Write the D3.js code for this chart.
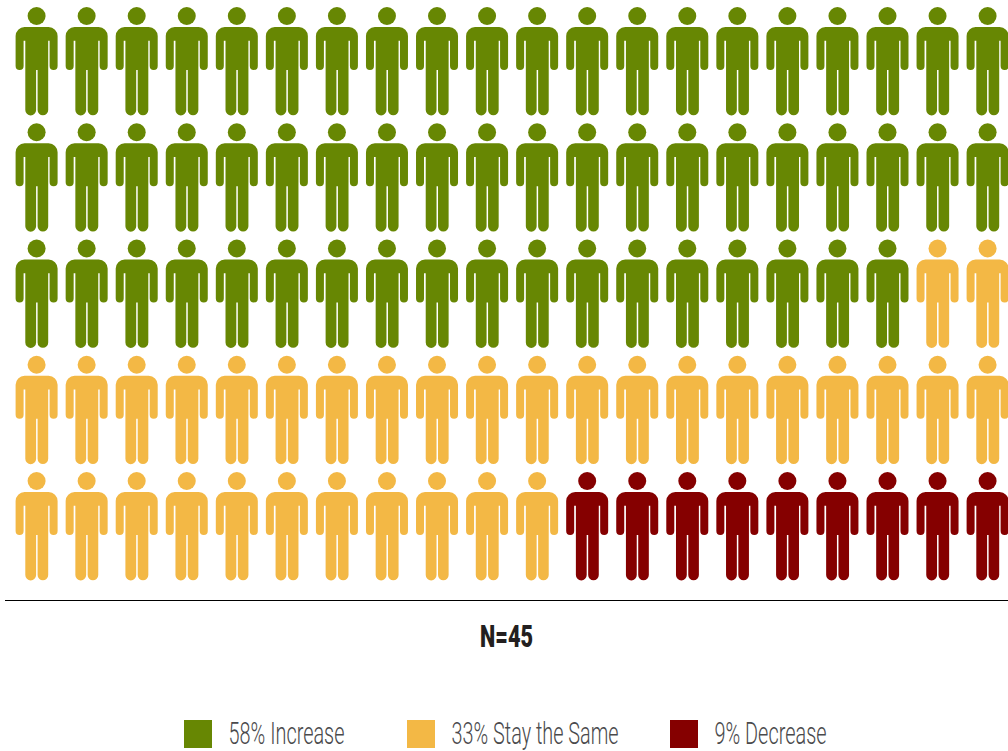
<!DOCTYPE html>
<html><head><meta charset="utf-8">
<style>html,body{margin:0;padding:0;background:#fff}svg{display:block}</style>
<script src="https://cdnjs.cloudflare.com/ajax/libs/d3/7.8.5/d3.min.js"></script>
</head><body><div id="c"></div>
<script>
const categories = ["Increase","Stay the Same","Decrease"];
const percents = [58,33,9];
const legendLabels = ["58% Increase","33% Stay the Same","9% Decrease"];
const colors = ["#678703","#f3b845","#850000"];
const sampleLabel = "N=45";
const columns = d3.range(20), rows = d3.range(5);

const W=1008,H=751;
const svg=d3.select("#c").append("svg").attr("width",W).attr("height",H);
const x=d3.scalePoint().domain(columns).range([36.6,987.6]);
const y=d3.scalePoint().domain(rows).range([0,465]);
const color=d3.scaleOrdinal().domain(categories).range(colors);

// One person icon, origin at the head centre
const icon="M-21,20 a9,9 0 0 1 9,-9 H12 a9,9 0 0 1 9,9 V50 a4,4 0 0 1 -8,0 V24.7 H11.6 V94 a5.3,5.3 0 0 1 -10.6,0 V54 H-0.5 V94 a5.4,5.4 0 0 1 -10.8,0 V24.7 H-13 V50 a4,4 0 0 1 -8,0 Z";
const people=categories.flatMap((c,i)=>d3.range(percents[i]).map(()=>c));
const g=svg.append("g").attr("transform","translate(0,16)");
g.selectAll("g.p").data(people).join("g").attr("class","p")
 .attr("transform",(d,i)=>`translate(${x(i%20)},${y(Math.floor(i/20))})`)
 .attr("fill",d=>color(d))
 .call(s=>s.append("circle").attr("r",9))
 .call(s=>s.append("path").attr("d",icon));

svg.append("line").attr("x1",5).attr("x2",W).attr("y1",600.5).attr("y2",600.5).attr("stroke","#000").attr("stroke-width",1);
svg.append("text").text(sampleLabel).attr("x",480).attr("y",647).attr("textLength",53).attr("lengthAdjust","spacingAndGlyphs")
 .attr("font-family","Roboto").attr("font-weight",900).attr("font-size",31).attr("fill","#231f20");

const legendX=d3.scaleOrdinal().domain(categories).range([184,407,670]);
const legendW=d3.scaleOrdinal().domain(categories).range([116,167,112]);
const lg=svg.selectAll("g.l").data(categories).join("g").attr("class","l").attr("transform",d=>`translate(${legendX(d)},720)`);
lg.append("rect").attr("width",28).attr("height",28).attr("fill",d=>color(d));
lg.append("text").text((d,i)=>legendLabels[i]).attr("x",44.5).attr("y",24).attr("textLength",d=>legendW(d)).attr("lengthAdjust","spacingAndGlyphs")
 .attr("font-family","Roboto").attr("font-weight",300).attr("font-size",31).attr("fill","#4a4a4c");
</script></body></html>
